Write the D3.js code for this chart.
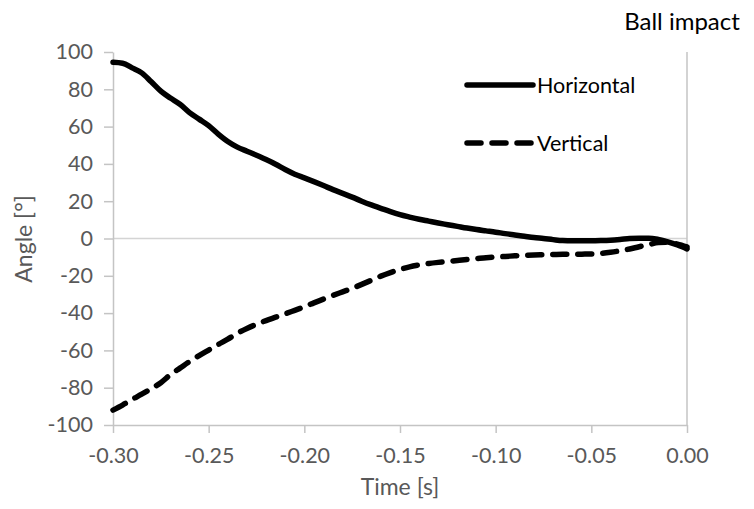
<!DOCTYPE html>
<html>
<head>
<meta charset="utf-8">
<script src="https://cdn.jsdelivr.net/npm/d3@7"></script>
<style>
  html, body { margin: 0; padding: 0; background: #fff; }
  svg { display: block; font-family: Lato, "Liberation Sans", sans-serif; }
</style>
</head>
<body>
<svg id="chart" width="754" height="509"></svg>
<script>
// Time before ball impact [s]
const times = [
  -0.300, -0.295, -0.290, -0.285, -0.280, -0.275, -0.270, -0.265, -0.260, -0.255,
  -0.250, -0.245, -0.240, -0.235, -0.230, -0.225, -0.220, -0.215, -0.210, -0.205,
  -0.200, -0.195, -0.190, -0.185, -0.180, -0.175, -0.170, -0.165, -0.160, -0.155,
  -0.150, -0.145, -0.140, -0.135, -0.130, -0.125, -0.120, -0.115, -0.110, -0.105,
  -0.100, -0.095, -0.090, -0.085, -0.080, -0.075, -0.070, -0.065, -0.060, -0.055,
  -0.050, -0.045, -0.040, -0.035, -0.030, -0.025, -0.020, -0.015, -0.010, -0.005,
   0.000
];

// Horizontal angle [°]
const horizontal = [
  94.5, 94.0, 91.5, 88.8, 84.0, 79.0, 75.3, 72.0, 67.5, 64.0,
  60.5, 56.0, 52.0, 49.0, 46.8, 44.6, 42.3, 39.8, 37.0, 34.5,
  32.5, 30.5, 28.4, 26.2, 24.2, 22.2, 20.0, 18.0, 16.2, 14.4,
  12.8, 11.5, 10.3, 9.3, 8.3, 7.4, 6.5, 5.6, 4.8, 4.1,
  3.4, 2.6, 1.9, 1.2, 0.5, 0.0, -0.6, -1.1, -1.2, -1.2,
  -1.2, -1.1, -0.9, -0.5, 0.0, 0.2, 0.2, -0.5, -1.8, -3.5,
  -5.6
];

// Vertical angle [°]
const vertical = [
  -92.0, -89.3, -86.3, -83.5, -80.5, -77.3, -73.0, -69.5, -66.0, -62.8,
  -59.8, -56.8, -54.0, -50.8, -48.2, -46.0, -44.0, -42.2, -40.4, -38.5,
  -36.6, -34.5, -32.5, -30.5, -28.6, -26.7, -24.6, -22.4, -20.2, -18.3,
  -16.6, -15.2, -14.2, -13.4, -12.8, -12.3, -11.8, -11.3, -10.8, -10.3,
  -9.9, -9.6, -9.3, -9.0, -8.8, -8.7, -8.6, -8.5, -8.5, -8.4,
  -8.3, -8.0, -7.4, -6.6, -5.6, -4.4, -3.3, -2.2, -2.0, -3.0,
  -4.5
];

const xTicks = [-0.30, -0.25, -0.20, -0.15, -0.10, -0.05, 0.00];
const yTicks = [-100, -80, -60, -40, -20, 0, 20, 40, 60, 80, 100];

const seriesNames = ["Horizontal", "Vertical"];
const dashPattern = "14,11";

const svg = d3.select("#chart");

const x = d3.scaleLinear().domain([-0.30, 0]).range([113, 687]);
const y = d3.scaleLinear().domain([-100, 100]).range([425, 52]);

const axisGrey = "#c4c4c4";
const labelGrey = "#595959";

// number formats using a plain hyphen for negatives
const fmtY = d => String(Math.round(d));
const fmtX = d => (Math.abs(d) < 1e-9 ? 0 : d).toFixed(2);

// zero reference line
svg.append("line")
  .attr("x1", x(-0.30)).attr("x2", x(0))
  .attr("y1", y(0)).attr("y2", y(0))
  .attr("stroke", "#d4d4d4").attr("stroke-width", 1.5);

// ball impact marker at t = 0
svg.append("line")
  .attr("x1", x(0)).attr("x2", x(0))
  .attr("y1", y(100)).attr("y2", y(-100))
  .attr("stroke", axisGrey).attr("stroke-width", 1.5);

// y axis
const gy = svg.append("g")
  .attr("transform", `translate(${x(-0.30)},0)`)
  .call(d3.axisLeft(y).tickValues(yTicks).tickSize(9).tickSizeOuter(0).tickPadding(11)
    .tickFormat(fmtY));

// x axis
const gx = svg.append("g")
  .attr("transform", `translate(0,${y(-100)})`)
  .call(d3.axisBottom(x).tickValues(xTicks).tickSize(8).tickSizeOuter(0).tickPadding(15)
    .tickFormat(fmtX));

[gx, gy].forEach(g => {
  g.select(".domain").attr("stroke", axisGrey).attr("stroke-width", 1.5);
  g.selectAll(".tick line").attr("stroke", axisGrey).attr("stroke-width", 1.5);
  g.selectAll(".tick text")
    .attr("fill", labelGrey)
    .style("font-size", "21.5px")
    .style("font-family", "Lato, 'Liberation Sans', sans-serif");
});

// axis titles
svg.append("text")
  .attr("x", 400).attr("y", 495)
  .attr("text-anchor", "middle")
  .attr("fill", labelGrey)
  .style("font-size", "23px")
  .text("Time [s]");

svg.append("text")
  .attr("transform", "translate(32,239) rotate(-90)")
  .attr("text-anchor", "middle")
  .attr("fill", labelGrey)
  .style("font-size", "23px")
  .text("Angle [°]");

// curves
const line = d3.line()
  .x((d, i) => x(times[i]))
  .y(d => y(d))
  .curve(d3.curveMonotoneX);

svg.append("path")
  .datum(horizontal)
  .attr("d", line)
  .attr("fill", "none")
  .attr("stroke", "#000")
  .attr("stroke-width", 5.5)
  .attr("stroke-linecap", "round")
  .attr("stroke-linejoin", "round");

svg.append("path")
  .datum(vertical)
  .attr("d", line)
  .attr("fill", "none")
  .attr("stroke", "#000")
  .attr("stroke-width", 5.5)
  .attr("stroke-dasharray", dashPattern)
  .attr("stroke-linecap", "round")
  .attr("stroke-linejoin", "round");

// legend
const legend = svg.append("g");
seriesNames.forEach((name, i) => {
  const ly = 85 + i * 58;
  legend.append("line")
    .attr("x1", 467).attr("x2", 533)
    .attr("y1", ly).attr("y2", ly)
    .attr("stroke", "#000")
    .attr("stroke-width", 5.5)
    .attr("stroke-linecap", "round")
    .attr("stroke-dasharray", i === 1 ? dashPattern : null);
  legend.append("text")
    .attr("x", 537).attr("y", ly)
    .attr("dy", "0.35em")
    .attr("fill", "#000")
    .style("font-size", "21.5px")
    .text(name);
});

// annotation above the impact marker
svg.append("text")
  .attr("x", 682).attr("y", 30)
  .attr("text-anchor", "middle")
  .attr("fill", "#000")
  .style("font-size", "24px")
  .text("Ball impact");
</script>
</body>
</html>
